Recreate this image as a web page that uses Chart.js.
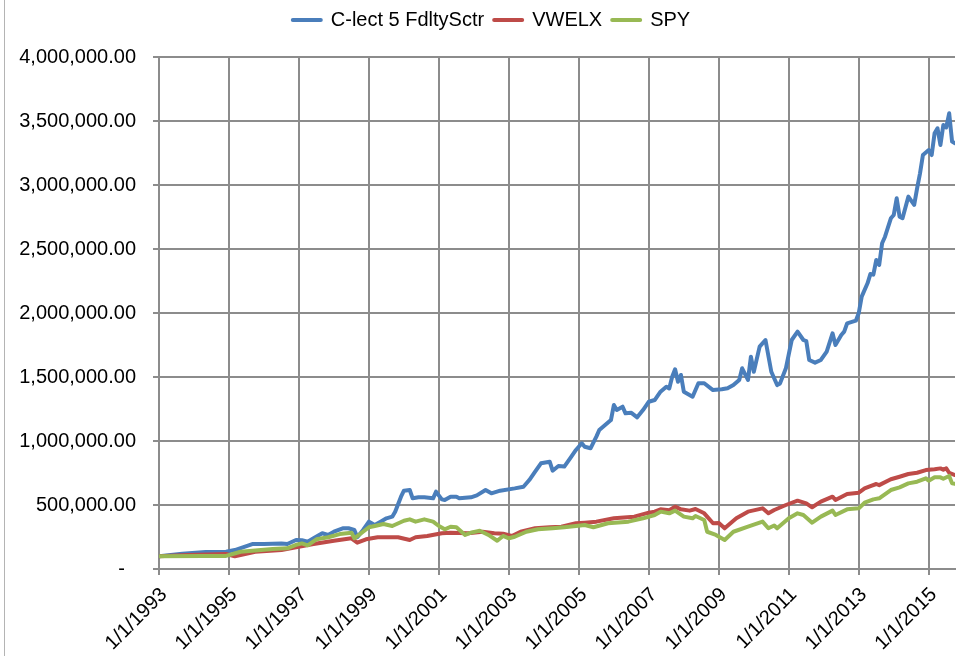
<!DOCTYPE html>
<html>
<head>
<meta charset="utf-8">
<script src="https://cdn.jsdelivr.net/npm/chart.js@4.4.1/dist/chart.umd.min.js"></script>
<style>
  html, body { margin: 0; padding: 0; background: #fff; }
  #wrap { position: relative; width: 964px; height: 656px; }
</style>
</head>
<body>
<div id="wrap"><canvas id="growthChart" width="964" height="656"></canvas></div>
<script>
// months counted from 1/1/1993
const seriesNames = ['C-lect 5 FdltySctr', 'VWELX', 'SPY'];
const startYear = 1993;
const lastMonth = 273;

const fundMonths = [0, 8, 16, 23, 26, 32, 36, 42, 44, 47, 49, 51, 53, 56, 58, 60, 63, 65, 67, 68, 70, 72, 74, 76, 78, 80, 81, 83, 84, 86, 87, 89, 91, 94, 95, 97, 98, 100, 102, 103, 107, 109, 112, 114, 117, 122, 125, 127, 129, 131, 134, 135, 137, 139, 141, 143, 145, 146, 148, 150, 151, 153, 155, 156, 157, 159, 160, 162, 164, 166, 168, 170, 172, 174, 175, 176, 177, 178, 179, 180, 183, 185, 187, 190, 193, 195, 197, 199, 200, 202, 203, 204, 206, 208, 210, 212, 213, 215, 217, 219, 221, 222, 223, 225, 227, 229, 231, 232, 234, 235, 236, 239, 240, 241, 243, 244, 245, 246, 247, 248, 249, 251, 252, 253, 254, 255, 257, 259, 260, 261, 262, 264, 265, 266, 267, 268, 269, 270, 271, 272, 273];
const fundValues = [100000, 120000, 132000, 135000, 148000, 195000, 195000, 200000, 195000, 227000, 225000, 213000, 240000, 279000, 266000, 292000, 318000, 318000, 305000, 248000, 305000, 370000, 344000, 370000, 396000, 409000, 448000, 565000, 612000, 617000, 552000, 560000, 560000, 552000, 604000, 544000, 539000, 565000, 565000, 552000, 560000, 575000, 617000, 591000, 612000, 630000, 643000, 695000, 760000, 826000, 838000, 768000, 805000, 800000, 865000, 930000, 982000, 955000, 943000, 1034000, 1086000, 1125000, 1164000, 1281000, 1242000, 1268000, 1216000, 1220000, 1185000, 1242000, 1307000, 1320000, 1385000, 1424000, 1410000, 1502000, 1560000, 1463000, 1516000, 1385000, 1346000, 1451000, 1451000, 1398000, 1404000, 1412000, 1437000, 1477000, 1568000, 1477000, 1659000, 1541000, 1737000, 1789000, 1541000, 1437000, 1450000, 1568000, 1789000, 1854000, 1789000, 1780000, 1633000, 1612000, 1633000, 1698000, 1841000, 1750000, 1828000, 1854000, 1919000, 1940000, 2000000, 2128000, 2232000, 2305000, 2300000, 2414000, 2375000, 2545000, 2596000, 2740000, 2766000, 2896000, 2752000, 2740000, 2909000, 2844000, 2974000, 3091000, 3234000, 3273000, 3234000, 3404000, 3443000, 3313000, 3469000, 3450000, 3560000, 3339000, 3326000];

const vwelxMonths = [0, 10, 23, 26, 33, 42, 47, 53, 60, 66, 68, 71, 75, 82, 86, 88, 92, 97, 100, 106, 111, 115, 118, 121, 124, 129, 134, 138, 143, 146, 150, 156, 163, 168, 170, 172, 175, 177, 179, 182, 184, 187, 188, 190, 192, 194, 198, 202, 207, 209, 211, 215, 219, 222, 224, 227, 231, 232, 236, 240, 242, 244, 246, 247, 251, 254, 257, 260, 263, 266, 268, 269, 270, 271, 273];
const vwelxValues = [100000, 109000, 117000, 100000, 135000, 148000, 170000, 195000, 221000, 240000, 206000, 232000, 248000, 248000, 227000, 248000, 258000, 279000, 284000, 279000, 291000, 279000, 275000, 258000, 291000, 318000, 326000, 331000, 357000, 362000, 370000, 396000, 409000, 440000, 448000, 466000, 460000, 487000, 466000, 456000, 469000, 435000, 409000, 357000, 360000, 318000, 396000, 448000, 474000, 435000, 461000, 500000, 534000, 513000, 482000, 526000, 565000, 539000, 586000, 596000, 630000, 648000, 664000, 655000, 701000, 721000, 742000, 752000, 773000, 779000, 786000, 775000, 786000, 752000, 734000];

const spyMonths = [0, 15, 23, 28, 39, 44, 47, 49, 51, 54, 58, 62, 66, 67, 72, 74, 77, 80, 84, 86, 88, 91, 94, 96, 98, 100, 102, 105, 107, 110, 113, 116, 118, 120, 122, 126, 130, 135, 139, 143, 146, 149, 154, 161, 166, 170, 172, 175, 177, 180, 183, 184, 187, 188, 191, 194, 197, 202, 207, 209, 211, 212, 216, 219, 221, 224, 227, 231, 232, 236, 240, 242, 245, 247, 251, 254, 257, 260, 263, 264, 266, 268, 269, 271, 272, 273];
const spyValues = [100000, 102000, 102000, 135000, 156000, 162000, 188000, 200000, 185000, 232000, 248000, 273000, 284000, 240000, 326000, 336000, 352000, 336000, 377000, 388000, 370000, 388000, 370000, 336000, 310000, 330000, 326000, 266000, 284000, 299000, 266000, 221000, 258000, 240000, 252000, 291000, 310000, 318000, 326000, 336000, 344000, 326000, 357000, 370000, 396000, 422000, 448000, 435000, 456000, 409000, 396000, 414000, 383000, 291000, 266000, 227000, 291000, 331000, 370000, 318000, 340000, 318000, 396000, 435000, 422000, 362000, 409000, 456000, 422000, 466000, 474000, 518000, 544000, 552000, 617000, 638000, 669000, 682000, 708000, 690000, 716000, 716000, 705000, 727000, 669000, 665000];

const yTicksMax = 4000000;
const yTickStep = 500000;

const colors = ['#4a7ebb', '#be4b48', '#98b954'];
const gridColor = '#8c8c8c';
const fontFamily = "'Liberation Sans', Arial, sans-serif";

const toPoints = (months, values) => months.map((m, i) => ({ x: m, y: values[i] }));

// left frame line of the chart box
const frameLine = {
    id: 'frameLine',
    beforeDraw(chart) {
        const ctx = chart.ctx;
        ctx.save();
        ctx.strokeStyle = '#b4b4b4';
        ctx.lineWidth = 1;
        ctx.beginPath();
        ctx.moveTo(4.5, 0);
        ctx.lineTo(4.5, chart.height);
        ctx.stroke();
        ctx.restore();
    }
};

// keep room above the plot and nudge the legend right, like the original
const legendSpace = {
    id: 'legendSpace',
    afterInit(chart) {
        const fit = chart.legend.fit;
        chart.legend.fit = function () {
            fit.call(this);
            this.height = 57;
        };
    },
    afterLayout(chart) {
        chart.legend.left += 14;
        chart.legend.right += 14;
    }
};

const ctx = document.getElementById('growthChart').getContext('2d');
Chart.defaults.font.family = fontFamily;
Chart.defaults.color = '#000';

new Chart(ctx, {
    type: 'line',
    data: {
        datasets: [
            { label: seriesNames[0], data: toPoints(fundMonths, fundValues), borderColor: colors[0], backgroundColor: colors[0], order: 2 },
            { label: seriesNames[1], data: toPoints(vwelxMonths, vwelxValues), borderColor: colors[1], backgroundColor: colors[1], order: 1 },
            { label: seriesNames[2], data: toPoints(spyMonths, spyValues), borderColor: colors[2], backgroundColor: colors[2], order: 0 }
        ]
    },
    options: {
        responsive: false,
        animation: false,
        layout: { padding: { left: 0, right: 9, top: 0, bottom: 0 } },
        elements: {
            line: { borderWidth: 4, tension: 0, borderJoinStyle: 'round', borderCapStyle: 'round' },
            point: { radius: 0 }
        },
        plugins: {
            tooltip: { enabled: false },
            legend: {
                position: 'top',
                labels: {
                    font: { size: 20 },
                    color: '#000',
                    boxWidth: 28,
                    boxHeight: 0,
                    padding: 10,
                    sort: (a, b) => a.datasetIndex - b.datasetIndex
                }
            }
        },
        scales: {
            x: {
                type: 'linear',
                min: 0,
                max: lastMonth,
                afterFit: (scale) => { scale.height = 87; },
                grid: { color: gridColor, lineWidth: 2, tickLength: 6 },
                border: { color: gridColor, width: 2 },
                ticks: {
                    stepSize: 24,
                    includeBounds: false,
                    autoSkip: false,
                    minRotation: 45,
                    maxRotation: 45,
                    padding: 8,
                    labelOffset: 5,
                    font: { size: 20 },
                    color: '#000',
                    callback: (v) => (v % 24 === 0 ? '1/1/' + (startYear + v / 12) : '')
                }
            },
            y: {
                min: 0,
                max: yTicksMax,
                afterFit: (scale) => { scale.width = 159; },
                grid: { color: gridColor, lineWidth: 2, tickLength: 6 },
                border: { color: gridColor, width: 2 },
                ticks: {
                    stepSize: yTickStep,
                    padding: 17,
                    font: { size: 20 },
                    color: '#000',
                    callback: (v) => (v === 0 ? '-  ' : v.toLocaleString('en-US', { minimumFractionDigits: 2, maximumFractionDigits: 2 }))
                }
            }
        }
    },
    plugins: [frameLine, legendSpace]
});
</script>
</body>
</html>
